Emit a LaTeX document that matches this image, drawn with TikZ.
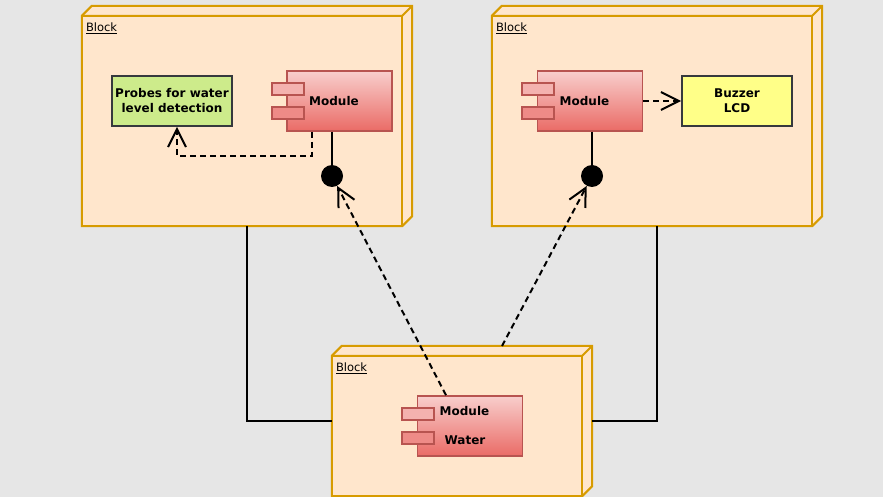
\documentclass[tikz,border=0pt]{standalone}
\usepackage{fontspec}
\setmainfont{DejaVu Sans}
\usetikzlibrary{arrows.meta,calc,positioning}

\definecolor{bggray}{HTML}{E6E6E6}
\definecolor{blockfill}{HTML}{FFE6CC}
\definecolor{blockdraw}{HTML}{D79B00}
\definecolor{modtop}{HTML}{F8CECC}
\definecolor{modbot}{HTML}{EA6B66}
\definecolor{moddraw}{HTML}{B85450}
\definecolor{portone}{HTML}{F4B2AF}
\definecolor{porttwo}{HTML}{EE8B87}
\definecolor{probefill}{HTML}{CDEB8B}
\definecolor{buzzfill}{HTML}{FFFF88}
\definecolor{boxdraw}{HTML}{36393D}

\tikzset{
  blockline/.style={draw=blockdraw, fill=blockfill, line width=2pt, line join=miter},
  blocktitle/.style={anchor=base west, inner sep=0pt, font=\fontsize{11.5}{14}\selectfont},
  modbody/.style={rectangle, draw=moddraw, line width=1.6pt, top color=modtop, bottom color=modbot,
    minimum width=105pt, minimum height=60pt, inner sep=0pt},
  modport/.style={rectangle, draw=moddraw, line width=1.6pt, fill=portone,
    minimum width=32pt, minimum height=12pt, inner sep=0pt},
  modtext/.style={font=\bfseries\fontsize{12}{15}\selectfont, inner sep=0pt},
  partbox/.style={rectangle, draw=boxdraw, line width=1.6pt, align=center,
    minimum height=50pt, inner sep=0pt, font=\bfseries\fontsize{12}{15}\selectfont},
  dot/.style={circle, fill=black, minimum size=22pt, inner sep=0pt},
  wire/.style={line width=2pt},
  dep/.style={line width=2pt, dash pattern=on 6pt off 4pt,
    -{Straight Barb[length=18pt,width=18pt]}},
}

\newcommand{\blockshape}[1]{%
  \filldraw[blockline] ([yshift=-10pt]#1.north west) -- ([xshift=10pt]#1.north west) -- (#1.north east)
    -- ([yshift=10pt]#1.south east) -- ([xshift=-10pt]#1.south east) -- (#1.south west) -- cycle;
  \draw[blockline, fill=none] ([yshift=-10pt]#1.north west) -- ([xshift=-10pt,yshift=-10pt]#1.north east)
    -- (#1.north east);
  \draw[blockline, fill=none] ([xshift=-10pt,yshift=-10pt]#1.north east) -- ([xshift=-10pt]#1.south east);
  \node[blocktitle] (#1title) at ([xshift=4pt,yshift=-26pt]#1.north west) {\underline{Block}};
}

\begin{document}
\begin{tikzpicture}[x=1pt,y=-1pt]
  \fill[bggray] (0,0) rectangle (883,497);
  \useasboundingbox (0,0) rectangle (883,497);

  % blocks
  \node[minimum width=330pt, minimum height=220pt, inner sep=0pt] (blk1) at (247,116) {};
  \node[minimum width=330pt, minimum height=220pt, inner sep=0pt] (blk2) at (657,116) {};
  \node[minimum width=260pt, minimum height=150pt, inner sep=0pt] (blk3) at (462,421) {};
  \blockshape{blk1}
  \blockshape{blk2}
  \blockshape{blk3}

  % left block
  \node[partbox, fill=probefill, minimum width=120pt] (probes) at (172,101) {Probes for water\\level detection};
  \node[modbody] (mod1) at (339.5,101) {};
  \node[modport] (mod1a) at (288,89) {};
  \node[modport, fill=porttwo] (mod1b) at (288,113) {};
  \node[modtext] (mod1t) at (334,101) {Module};
  \node[dot] (dot1) at (332,176) {};

  % right block
  \node[modbody] (mod2) at (590,101) {};
  \node[modport] (mod2a) at (538,89) {};
  \node[modport, fill=porttwo] (mod2b) at (538,113) {};
  \node[modtext] (mod2t) at (584.5,101) {Module};
  \node[partbox, fill=buzzfill, minimum width=110pt] (buzz) at (737,101) {Buzzer\\LCD};
  \node[dot] (dot2) at (592,176) {};

  % bottom block
  \node[modbody] (mod3) at (470,426) {};
  \node[modport] (mod3a) at (418,414) {};
  \node[modport, fill=porttwo] (mod3b) at (418,438) {};
  \node[modtext] (mod3t) at (464.5,411) {Module};
  \node[modtext] (mod3w) at (465,440) {Water};
  \coordinate (b3top) at (502,346);

  % connectors
  \draw[wire] (dot1 |- mod1.south) -- (dot1);
  \draw[wire] (dot2 |- mod2.south) -- (dot2);
  \draw[dep] ([xshift=-27.5pt]mod1.south) -- ++(0,24) -| ([xshift=5pt]probes.south);
  \draw[dep] (mod2) -- (buzz);
  \draw[dep] ([xshift=-24pt]mod3.north) -- (dot1);
  \draw[dep] (b3top) -- (dot2);
  \draw[wire] (blk1.south) |- (blk3.west);
  \draw[wire] (blk2.south) |- (blk3.east);
\end{tikzpicture}
\end{document}
